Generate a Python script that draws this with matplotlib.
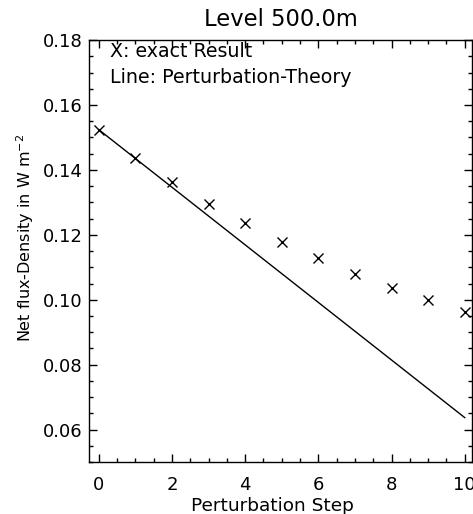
import matplotlib
matplotlib.use("Agg")
import matplotlib.pyplot as plt
from matplotlib.ticker import MultipleLocator, FormatStrFormatter

# exact result (crosses) per perturbation step
steps = [0, 1, 2, 3, 4, 5, 6, 7, 8, 9, 10]
exact_flux = [0.1524, 0.1438, 0.1363, 0.1296, 0.1235, 0.1178,
              0.1128, 0.1080, 0.1037, 0.0998, 0.0961]

# perturbation theory (straight line)
theory_steps = [0, 10]
theory_flux = [0.1524, 0.0637]

# wider sans face: the reference text is stretched sideways
plt.rcParams["font.family"] = ["DejaVu Sans"]
plt.rcParams["mathtext.default"] = "regular"

fig = plt.figure(figsize=(4.73, 5.14), dpi=100)
ax = fig.add_axes([0.188, 0.101, 0.810, 0.821])

ax.plot(theory_steps, theory_flux, color="black", lw=1.0)
ax.plot(steps, exact_flux, ls="none", marker="x", color="black",
        markersize=7, mew=1.0)

ax.set_xlim(-0.27, 10.2)
ax.set_ylim(0.05, 0.18)
ax.xaxis.set_major_locator(MultipleLocator(2))
ax.xaxis.set_minor_locator(MultipleLocator(0.5))
ax.yaxis.set_major_locator(MultipleLocator(0.02))
ax.yaxis.set_minor_locator(MultipleLocator(0.005))
ax.yaxis.set_major_formatter(FormatStrFormatter("%.2f"))

ax.tick_params(which="both", direction="in", top=True, right=True,
               width=1.0, labelsize=13)
ax.tick_params(axis="x", which="major", length=6, pad=9.7)
ax.tick_params(axis="y", which="major", length=5.5, pad=4.3)
ax.tick_params(which="minor", length=3)
for sp in ax.spines.values():
    sp.set_linewidth(1.0)

ax.set_title("Level 500.0m", fontsize=16.3, pad=10)
ax.set_xlabel("Perturbation Step", fontsize=13.3, labelpad=3)
ax.xaxis.set_label_coords(0.480, -0.082)
ax.set_ylabel("Net flux-Density in W m$^{-2}$", fontsize=11.5)
ax.yaxis.set_label_coords(-0.138, 0.532)

ax.text(0.055, 0.960, "X: exact Result", transform=ax.transAxes,
        fontsize=13.7, va="baseline")
ax.text(0.055, 0.898, "Line: Perturbation-Theory", transform=ax.transAxes,
        fontsize=13.7, va="baseline")

fig.savefig("out.png", dpi=100)
